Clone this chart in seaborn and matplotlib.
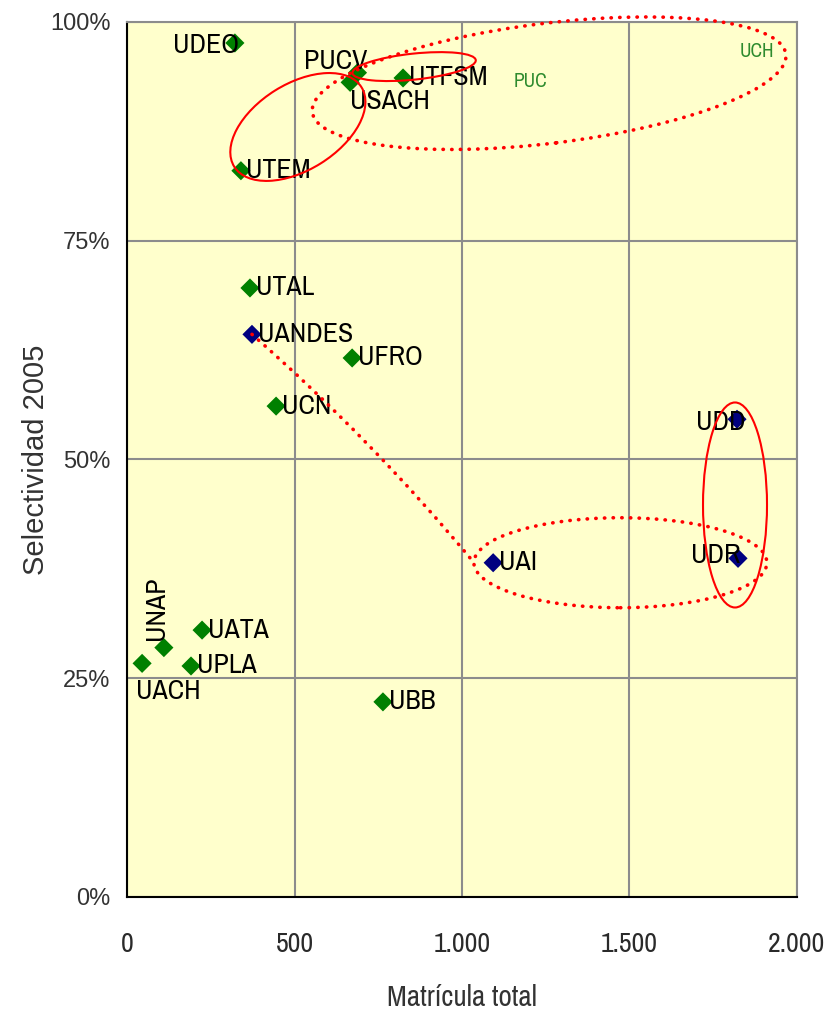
import matplotlib
matplotlib.use("Agg")
import matplotlib.pyplot as plt
import seaborn as sns
import pandas as pd
from matplotlib.patches import Ellipse, FancyArrowPatch
from matplotlib.transforms import ScaledTranslation
from matplotlib.ticker import FuncFormatter, FixedLocator

# %% Data
universidades = ["UDEO", "PUCV", "USACH", "UTFSM", "UTEM", "UTAL", "UANDES", "UFRO", "UCN",
                 "UDD", "UDR", "UAI", "UNAP", "UACH", "UATA", "UPLA", "UBB"]
matricula = [322, 688, 666, 824, 340, 367, 373, 672, 445,
             1821, 1824, 1093, 110, 45, 224, 191, 764]
selectividad = [97.6, 94.2, 93.1, 93.6, 83.0, 69.6, 64.3, 61.6, 56.1,
                54.6, 38.7, 38.2, 28.5, 26.7, 30.5, 26.4, 22.3]
grupo = ["CRUCH", "CRUCH", "CRUCH", "CRUCH", "CRUCH", "CRUCH", "Privada", "CRUCH", "CRUCH",
         "Privada", "Privada", "Privada", "CRUCH", "CRUCH", "CRUCH", "CRUCH", "CRUCH"]

# universities whose markers fall outside the plotted range, only their labels are shown
fuera_nombres = ["PUC", "UCH"]
fuera_x = [1203, 1881]
fuera_y = [93.2, 96.6]

x_ticks = [0, 500, 1000, 1500, 2000]
y_ticks = [0, 25, 50, 75, 100]

df = pd.DataFrame({"Universidad": universidades, "Matricula": matricula,
                   "Selectividad": selectividad, "Grupo": grupo})

# %% Label placement (offset in points, alignment, rotation)
default_label = ((4, 0), "left", 0)
label_pos = {
    "UDEO": ((3, -2), "right", 0),
    "PUCV": ((-16, 8), "center", 0),
    "USACH": ((0, -14), "left", 0),
    "UDD": ((6, -2), "right", 0),
    "UDR": ((2, 2), "right", 0),
    "UACH": ((19, -20), "center", 0),
    "UNAP": ((-5, 28), "center", 90),
}

# ellipses: centre in data units, width / height in pixels, angle, style
ellipses = [
    (510, 88.0, 150, 86, 32, "solid"),
    (857, 94.9, 124, 26, 6, "solid"),
    (1260, 93.0, 477, 120, 7, "dotted"),
    (1815, 44.8, 64, 205, 0, "solid"),
    (1473, 38.2, 293, 90, 0, "dotted"),
]

# %% Plot
sns.set_style("white")
narrow = ["Archivo Narrow", "Liberation Sans Narrow", "Liberation Sans", "DejaVu Sans"]
regular = ["Liberation Sans", "DejaVu Sans"]
plt.rcParams["font.family"] = narrow

fig = plt.figure(figsize=(8.27, 10.17), dpi=100)
ax = fig.add_axes([0.1536, 0.118, 0.8101, 0.8604])
ax.set_facecolor("#FFFFCC")

sns.scatterplot(data=df, x="Matricula", y="Selectividad", hue="Grupo",
                palette={"CRUCH": "#008000", "Privada": "#000080"},
                marker="D", s=95, edgecolor="none", legend=False, zorder=5, ax=ax)

ax.set_xlim(0, 2000)
ax.set_ylim(0, 100)
ax.xaxis.set_major_locator(FixedLocator(x_ticks))
ax.yaxis.set_major_locator(FixedLocator(y_ticks))
ax.xaxis.set_major_formatter(FuncFormatter(lambda v, p: f"{int(v):,}".replace(",", ".")))
ax.yaxis.set_major_formatter(FuncFormatter(lambda v, p: f"{int(v)}%"))

ax.grid(True, color="#8c8c8c", lw=1.5)
ax.set_axisbelow(True)
for side in ["top", "right"]:
    ax.spines[side].set_color("#8c8c8c")
    ax.spines[side].set_linewidth(1.5)
for side in ["left", "bottom"]:
    ax.spines[side].set_color("black")
    ax.spines[side].set_linewidth(1.5)

ax.tick_params(axis="x", direction="out", length=9, width=1.2, color="black",
               pad=16, labelsize=20, labelcolor="#2a2a2a")
ax.tick_params(axis="y", direction="out", length=6, width=1.2, color="black",
               pad=6, labelsize=17, labelcolor="#333333")
for t in ax.get_yticklabels():
    t.set_family(regular)

ax.set_xlabel("Matrícula total", fontsize=21, color="#333333")
ax.xaxis.set_label_coords(0.5, -0.099)
ax.set_ylabel("Selectividad 2005", fontsize=21, color="#333333", family=regular)
ax.yaxis.set_label_coords(-0.115, 0.5)

# point labels
for name, x, y in zip(universidades, matricula, selectividad):
    off, ha, rot = label_pos.get(name, default_label)
    ax.annotate(name, (x, y), xytext=off, textcoords="offset points",
                ha=ha, va="center", rotation=rot, fontsize=20, color="black", zorder=6)

for name, x, y in zip(fuera_nombres, fuera_x, fuera_y):
    ax.text(x, y, name, ha="center", va="center", fontsize=14, color="#2e8b2e", zorder=6)

# red ellipses drawn in pixel size around a data centre
for cx, cy, w, h, ang, style in ellipses:
    tr = fig.dpi_scale_trans + ScaledTranslation(cx, cy, ax.transData)
    e = Ellipse((0, 0), w / 100, h / 100, angle=ang, transform=tr, fill=False,
                edgecolor="red", clip_on=False, zorder=7)
    if style == "dotted":
        e.set_linewidth(2.6)
        e.set_linestyle((0, (0.1, 2.3)))
        e.set_capstyle("round")
    else:
        e.set_linewidth(1.5)
    ax.add_patch(e)

# dotted connector from UANDES to the UAI/UDR group
i = universidades.index("UANDES")
conn = FancyArrowPatch((matricula[i], selectividad[i]), (1036, 38.2),
                       arrowstyle="-", connectionstyle="arc3,rad=-0.04",
                       color="red", lw=2.6, linestyle=(0, (0.1, 2.3)),
                       capstyle="round", shrinkA=0, shrinkB=0, zorder=7)
ax.add_patch(conn)

fig.savefig("out.png", dpi=100)
